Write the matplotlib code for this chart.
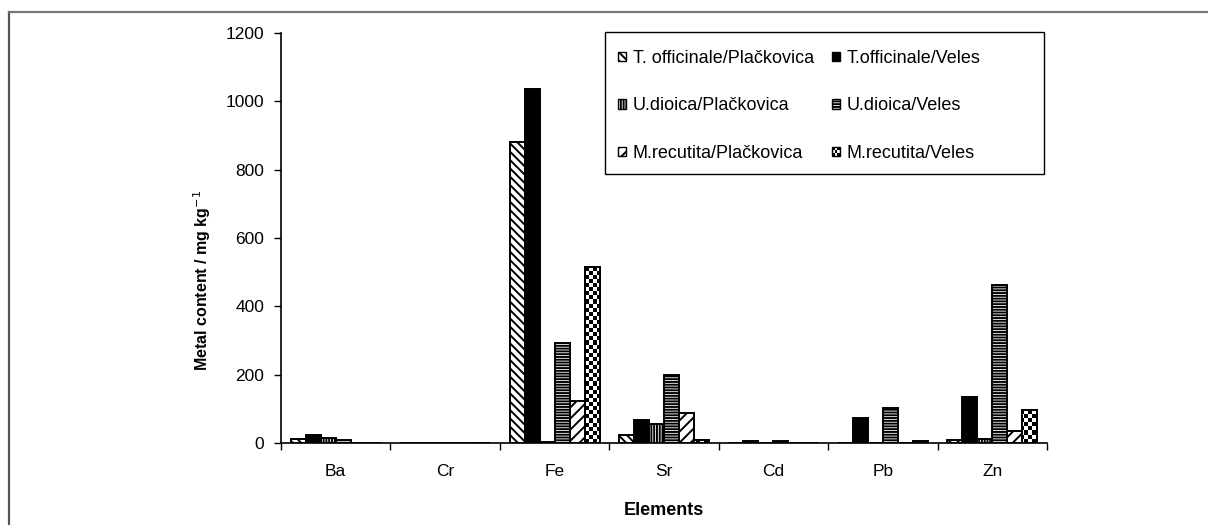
import numpy as np
import matplotlib
matplotlib.use("Agg")
from matplotlib import pyplot as plt
from matplotlib.patches import Rectangle, Patch
from matplotlib.legend_handler import HandlerBase
from matplotlib.lines import Line2D

plt.rcParams['font.family'] = ['Liberation Sans', 'DejaVu Sans']
plt.rcParams['hatch.linewidth'] = 1.4

elements = ["Ba", "Cr", "Fe", "Sr", "Cd", "Pb", "Zn"]
series = ["T. officinale/Plačkovica", "T.officinale/Veles",
          "U.dioica/Plačkovica", "U.dioica/Veles",
          "M.recutita/Plačkovica", "M.recutita/Veles"]

t_off_plac = [13, 0.6, 882, 22, 0, 0, 10]
t_off_veles = [22, 0.6, 1035, 66, 7, 73, 135]
u_dio_plac = [16, 0.6, 4, 57, 0, 0, 12]
u_dio_veles = [9, 0.6, 293, 198, 7, 102, 462]
m_rec_plac = [0, 0.6, 123, 89, 0, 0, 36]
m_rec_veles = [0, 0.6, 515, 8, 0, 7, 97]
values = [t_off_plac, t_off_veles, u_dio_plac, u_dio_veles, m_rec_plac, m_rec_veles]

# hatch / fill for each series (None = checkerboard drawn separately)
fills = ["white", "black", "white", "white", "white", "white"]
hatches = ["\\\\\\\\", None, "||||||", "------", "///", None]

W, H = 1208, 525
fig = plt.figure(figsize=(W / 100, H / 100), dpi=100)
ax = fig.add_axes([281 / W, 1 - 443 / H, (1047 - 281) / W, (443 - 33) / H])

w = 0.137
x = np.arange(len(elements)) + 0.5
checker_bars = []
for j in range(6):
    bars = ax.bar(x + (j - 2.5) * w, values[j], width=w, color=fills[j],
                  hatch=hatches[j], edgecolor="black", linewidth=1.4, zorder=2)
    if j == 5:
        checker_bars = bars

# checkerboard texture for the last series
nx, ny = 200, 100
cx, cy = np.meshgrid(np.arange(nx), np.arange(ny))
checker = ((cx + cy) % 2).astype(float)
for b in checker_bars:
    if b.get_height() <= 0:
        continue
    im = ax.imshow(checker, extent=(0, 7.3, 0, 1200), cmap="gray",
                   interpolation="nearest", aspect="auto", origin="lower", zorder=2.5)
    im.set_clip_path(b)
    edge = Rectangle(b.get_xy(), b.get_width(), b.get_height(), fill=False,
                     edgecolor="black", linewidth=1.4, zorder=3)
    ax.add_patch(edge)

ax.set_xlim(0, 7)
ax.set_ylim(0, 1200)
ax.set_yticks(np.arange(0, 1201, 200))
ax.set_xticks(x)
ax.set_xticklabels(elements)
ax.set_xticks(np.arange(0, 8), minor=True)
ax.tick_params(axis="x", which="major", length=0, pad=15, labelsize=12.5)
ax.tick_params(axis="x", which="minor", length=5, direction="out", width=1)
ax.tick_params(axis="y", length=5, width=1, labelsize=12.5, pad=7)
ax.spines["top"].set_visible(False)
ax.spines["right"].set_visible(False)
ax.spines["left"].set_linewidth(1.2)
ax.spines["bottom"].set_linewidth(1.2)

ax.set_ylabel("Metal content / mg kg$^{-1}$", fontsize=11.5, fontweight="bold")
ax.yaxis.set_label_coords((213 - 281) / (1047 - 281), (443 - 280) / 410)
ax.set_xlabel("Elements", fontsize=13, fontweight="bold")
ax.xaxis.set_label_coords(0.5, -(502 - 443) / 410)


class CheckerHandler(HandlerBase):
    def create_artists(self, legend, orig_handle, xdescent, ydescent,
                       width, height, fontsize, trans):
        arts = [Rectangle((-xdescent, -ydescent), width, height, facecolor="white",
                          edgecolor="black", linewidth=1, transform=trans)]
        n = 3
        for r in range(n):
            for c in range(n):
                if (r + c) % 2 == 0:
                    arts.append(Rectangle((-xdescent + c * width / n, -ydescent + r * height / n),
                                          width / n, height / n, facecolor="black",
                                          edgecolor="none", transform=trans))
        return arts


handles = []
for j in range(6):
    handles.append(Patch(facecolor=fills[j], edgecolor="black", hatch=hatches[j], linewidth=1))
order = [0, 2, 4, 1, 3, 5]
leg = ax.legend([handles[i] for i in order], [series[i] for i in order], ncol=2,
                loc="upper left", bbox_to_anchor=(618 / W, 1 - 50 / H),
                bbox_transform=fig.transFigure, fontsize=13, frameon=False,
                handlelength=0.42, handleheight=0.42, handletextpad=0.4,
                labelspacing=1.68, columnspacing=1.0, borderpad=0, borderaxespad=0,
                handler_map={handles[5]: CheckerHandler()})

# legend frame
fig.add_artist(Rectangle((605 / W, 1 - 174 / H), (1044 - 605) / W, (174 - 32) / H,
                         transform=fig.transFigure, fill=False, edgecolor="black", lw=1.0))

# outer frame lines
fig.add_artist(Line2D([9 / W, 9 / W], [0, 1 - 12 / H], color="#555555", lw=1.6))
fig.add_artist(Line2D([9 / W, 1], [1 - 12 / H, 1 - 12 / H], color="#777777", lw=1.6))

fig.savefig("out.png", dpi=100)
